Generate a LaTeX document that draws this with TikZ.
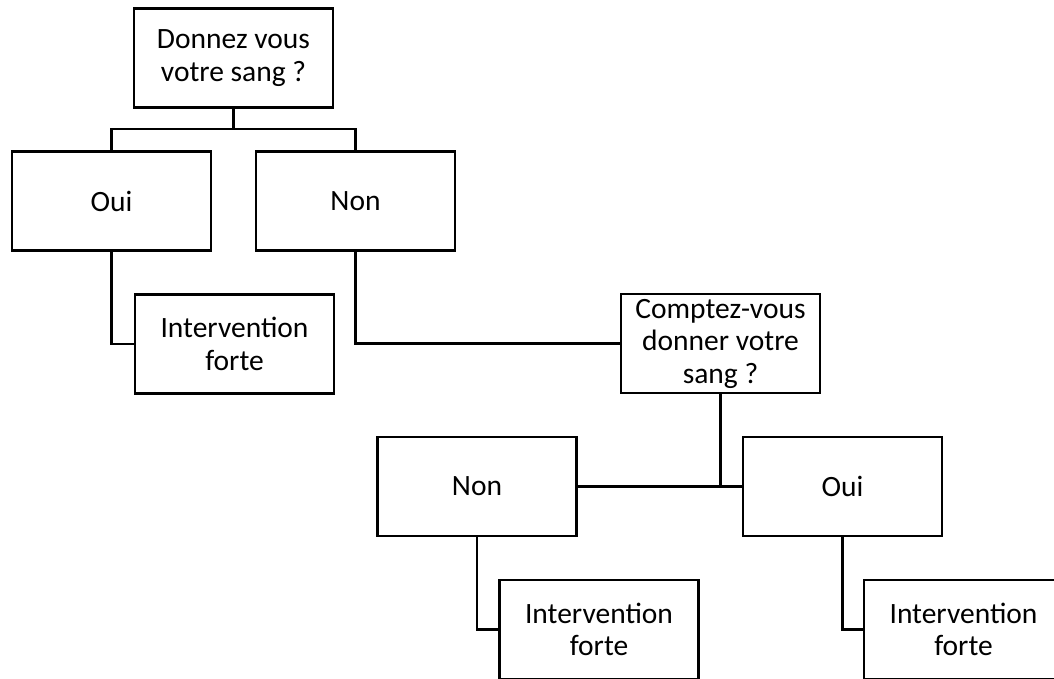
\documentclass[tikz,border=0pt]{standalone}
\usepackage{fontspec}
\setmainfont{Carlito}
\begin{document}
\begin{tikzpicture}[x=1pt,y=-1pt,
  box/.style={draw=black,line width=2.4pt,fill=white,minimum width=199pt,minimum height=99pt,
    inner sep=0pt,align=center,font=\fontsize{29.5}{32.5}\selectfont},
  link/.style={draw=black,line width=2.4pt}]
\useasboundingbox (0,0) rectangle (1054,679);
\clip (0,0) rectangle (1054,679);
\fill[white] (0,0) rectangle (1054,679);
\node[box] (top) at (233.5,58) {Donnez vous\\votre sang ?};
\node[box] (oui1) at (111.5,201) {Oui};
\node[box] (non1) at (355.5,201) {Non};
\node[box] (int1) at (234.5,344) {Intervention\\forte};
\node[box] (cmp) at (720.5,343.5) {Comptez-vous\\donner votre\\sang ?};
\node[box] (non2) at (477,486.5) {Non};
\node[box] (oui2) at (842.5,486.5) {Oui};
\node[box] (int2) at (599,629.5) {Intervention\\forte};
\node[box] (int3) at (963.5,629.5) {Intervention\\forte};
\coordinate (j1) at (233.5,129);
\coordinate (j2) at (720.5,486.5);
\draw[link] (top.south) -- (j1);
\draw[link] (j1) -| (oui1.north);
\draw[link] (j1) -| (non1.north);
\draw[link] (oui1.south) |- (int1.west);
\draw[link] (non1.south) |- (cmp.west);
\draw[link] (cmp.south) -- (j2);
\draw[link] (non2.east) -- (oui2.west);
\draw[link] (non2.south) |- (int2.west);
\draw[link] (oui2.south) |- (int3.west);
\end{tikzpicture}
\end{document}
